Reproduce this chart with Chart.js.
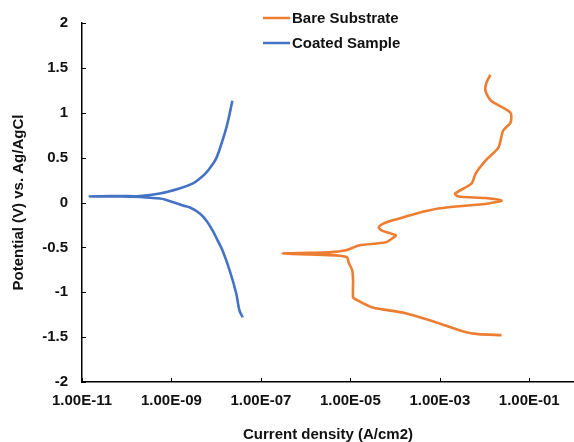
<!DOCTYPE html>
<html>
<head>
<meta charset="utf-8">
<script src="https://cdn.jsdelivr.net/npm/chart.js@4/dist/chart.umd.min.js"></script>
<style>
  html, body { margin: 0; padding: 0; background: #fff; }
  #wrap { width: 574px; height: 442px; }
</style>
</head>
<body>
<div id="wrap"><canvas id="c" width="574" height="442"></canvas></div>
<script>
// ---- Data ----
const seriesNames = ['Bare Substrate', 'Coated Sample'];

const bareCurrent = [0.024, 0.0072, 0.0037, 8.1e-4, 1.7e-4, 3.0e-5, 1.3e-5, 1.15e-5, 1.15e-5, 1.1e-5,
  9.3e-6, 8.4e-6, 4.8e-6, 1.2e-6, 3.0e-7, 1.2e-6, 3.3e-6, 7.9e-6, 1.55e-5, 6.2e-5,
  9.3e-5, 1.04e-4, 5.0e-5, 4.3e-5, 5.6e-5, 1.04e-4, 3.0e-4, 9.3e-4, 0.0123, 0.024,
  0.0105, 0.0026, 0.0022, 0.0051, 0.0063, 0.0105, 0.0204, 0.026, 0.038, 0.038,
  0.014, 0.0105, 0.011, 0.0135];
const barePotential = [-1.478, -1.467, -1.444, -1.333, -1.233, -1.167, -1.078, -1.056, -0.867, -0.756,
  -0.678, -0.611, -0.589, -0.578, -0.567, -0.561, -0.556, -0.533, -0.478, -0.444,
  -0.389, -0.367, -0.311, -0.278, -0.233, -0.189, -0.122, -0.067, -0.011, 0.022,
  0.05, 0.067, 0.1, 0.211, 0.322, 0.467, 0.611, 0.8, 0.889, 1.0,
  1.133, 1.244, 1.333, 1.422];

const coatedCurrent = [3.9e-8, 3.3e-8, 2.8e-8, 2.0e-8, 1.38e-8, 1.07e-8, 8.3e-9, 6.0e-9,
  4.3e-9, 2.6e-9, 1.8e-9, 7.1e-10, 5.5e-10, 1.95e-10, 7e-11, 1.5e-11, 7e-11, 1.95e-10,
  5.5e-10, 1.5e-9, 2.95e-9, 4.3e-9, 6.0e-9, 7.9e-9, 1.02e-8, 1.38e-8,
  1.78e-8, 2.3e-8];
const coatedPotential = [-1.278, -1.2, -1.011, -0.756, -0.533, -0.42, -0.311, -0.2,
  -0.122, -0.056, -0.033, 0.033, 0.044, 0.061, 0.067, 0.067, 0.072, 0.072,
  0.1, 0.156, 0.211, 0.267, 0.333, 0.41, 0.5, 0.689,
  0.878, 1.133];

const xTickValues = [1e-11, 1e-9, 1e-7, 1e-5, 1e-3, 1e-1];
const xTickLabels = ['1.00E-11', '1.00E-09', '1.00E-07', '1.00E-05', '1.00E-03', '1.00E-01'];
const yTickValues = [-2, -1.5, -1, -0.5, 0, 0.5, 1, 1.5, 2];
const yTickLabels = ['-2', '-1.5', '-1', '-0.5', '0', '0.5', '1', '1.5', '2'];

const xTitle = 'Current density (A/cm2)';
const yTitle = 'Potential (V) vs. Ag/AgCl';

// ---- Build ----
const toPoints = (xs, ys) => xs.map((x, i) => ({ x: x, y: ys[i] }));
const FONT = "'Liberation Sans', Arial, Helvetica, sans-serif";

const innerTicks = {
  id: 'innerTicks',
  afterDraw(chart) {
    const { ctx, chartArea, scales } = chart;
    ctx.save();
    ctx.strokeStyle = '#000';
    ctx.lineWidth = 1;
    yTickValues.forEach(v => {
      const py = Math.round(scales.y.getPixelForValue(v)) + 0.5;
      ctx.beginPath();
      ctx.moveTo(chartArea.left, py);
      ctx.lineTo(chartArea.left + 4, py);
      ctx.stroke();
    });
    xTickValues.forEach(v => {
      const px = Math.round(scales.x.getPixelForValue(v)) + 0.5;
      ctx.beginPath();
      ctx.moveTo(px, chartArea.bottom);
      ctx.lineTo(px, chartArea.bottom - 4);
      ctx.stroke();
    });
    ctx.restore();
  }
};

const customLegend = {
  id: 'customLegend',
  afterDraw(chart) {
    const { ctx } = chart;
    ctx.save();
    ctx.font = 'bold 15px ' + FONT;
    ctx.textBaseline = 'middle';
    ctx.textAlign = 'left';
    const x0 = 263, x1 = 290, tx = 292;
    const ys = [18, 43];
    chart.data.datasets.forEach((ds, i) => {
      ctx.strokeStyle = ds.borderColor;
      ctx.lineWidth = 2.5;
      ctx.beginPath();
      ctx.moveTo(x0, ys[i]);
      ctx.lineTo(x1, ys[i]);
      ctx.stroke();
      ctx.fillStyle = '#111';
      ctx.fillText(ds.label, tx, ys[i] + 1);
    });
    ctx.restore();
  }
};

new Chart(document.getElementById('c'), {
  type: 'scatter',
  data: {
    datasets: [
      {
        label: seriesNames[0],
        data: toPoints(bareCurrent, barePotential),
        showLine: true,
        borderColor: '#ED7D31',
        backgroundColor: '#ED7D31',
        borderWidth: 2.6,
        pointRadius: 0,
        tension: 0.25
      },
      {
        label: seriesNames[1],
        data: toPoints(coatedCurrent, coatedPotential),
        showLine: true,
        borderColor: '#4472C4',
        backgroundColor: '#4472C4',
        borderWidth: 2.6,
        pointRadius: 0,
        tension: 0.4
      }
    ]
  },
  options: {
    responsive: false,
    animation: false,
    devicePixelRatio: 1,
    layout: { padding: { top: 22, right: 0, left: 0, bottom: 0 } },
    plugins: {
      legend: { display: false },
      tooltip: { enabled: false }
    },
    scales: {
      x: {
        type: 'logarithmic',
        min: 1e-11,
        max: 1,
        afterBuildTicks(scale) { scale.ticks = xTickValues.map(v => ({ value: v })); },
        afterFit(scale) { scale.height = 60; },
        grid: { display: true, drawOnChartArea: false, drawTicks: false },
        border: { display: true, color: '#000', width: 1.5 },
        ticks: {
          autoSkip: false,
          maxRotation: 0,
          padding: 10,
          color: '#111',
          font: { family: FONT, size: 15, weight: 'bold' },
          callback(value) {
            const i = xTickValues.findIndex(t => Math.abs(Math.log10(t) - Math.log10(value)) < 1e-6);
            return i >= 0 ? xTickLabels[i] : '';
          }
        },
        title: {
          display: true,
          text: xTitle,
          color: '#111',
          padding: 0,
          font: { family: FONT, size: 15, weight: 'bold', lineHeight: 1 }
        }
      },
      y: {
        type: 'linear',
        min: -2,
        max: 2,
        afterBuildTicks(scale) { scale.ticks = yTickValues.map(v => ({ value: v })); },
        afterFit(scale) { scale.width = 82; },
        grid: { display: true, drawOnChartArea: false, drawTicks: false },
        border: { display: true, color: '#000', width: 1.5 },
        ticks: {
          padding: 14,
          color: '#111',
          font: { family: FONT, size: 15, weight: 'bold' },
          callback(value) {
            const i = yTickValues.findIndex(t => Math.abs(t - value) < 1e-9);
            return i >= 0 ? yTickLabels[i] : '';
          }
        },
        title: {
          display: true,
          text: yTitle,
          color: '#111',
          padding: { top: 10, bottom: 0 },
          font: { family: FONT, size: 15, weight: 'bold', lineHeight: 1.2 }
        }
      }
    }
  },
  plugins: [innerTicks, customLegend]
});
</script>
</body>
</html>
